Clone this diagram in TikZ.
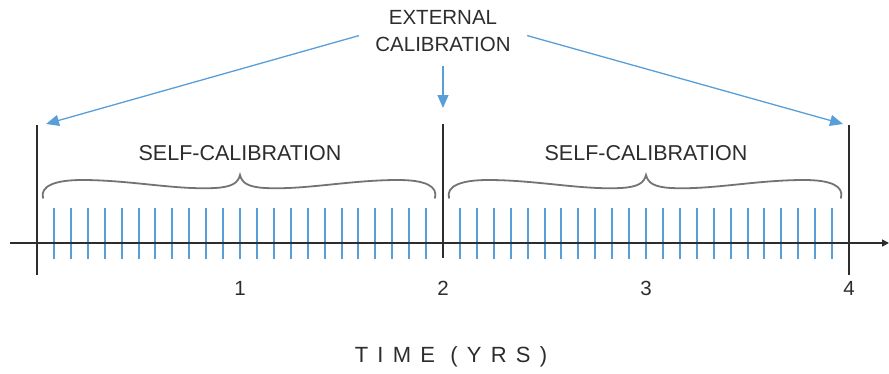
\documentclass[tikz,border=0pt]{standalone}
\usepackage{fontspec}
\setmainfont{Liberation Sans}
\usetikzlibrary{arrows.meta}
\definecolor{tickblue}{RGB}{88,158,216}
\definecolor{ink}{RGB}{45,45,45}
\definecolor{bracegray}{RGB}{115,115,115}
\tikzset{
  lbl/.style={text=ink, inner sep=0pt, font=\fontsize{20.5}{27}\selectfont},
  bluearrow/.style={draw=tickblue, line width=1.3pt, -{Triangle[length=13pt,width=11pt]}},
  axisline/.style={draw=ink, line width=1.5pt},
  tickmark/.style={draw=tickblue, line width=2pt},
  bracestroke/.style={draw=bracegray, line width=1.8pt, line cap=round},
}
\begin{document}
\begin{tikzpicture}[x=1pt,y=-1pt]
\useasboundingbox (0,0) rectangle (889,373);
% ticks
\foreach \k in {1,...,23}{
  \pgfmathsetmacro\xa{round(37+16.9167*\k)}
  \pgfmathsetmacro\xb{round(443+16.9167*\k)}
  \draw[tickmark] (\xa,208) -- (\xa,259);
  \draw[tickmark] (\xb,208) -- (\xb,259);
}
% axis
\coordinate (ax0) at (10,243);
\coordinate (ax1) at (889,243);
\draw[axisline, -{Triangle[length=7pt,width=7pt]}] (ax0) -- (ax1);
% vertical marks
\coordinate (l0t) at (37,125); \coordinate (l0b) at (37,275);
\coordinate (l2t) at (443,124); \coordinate (l2b) at (443,258);
\coordinate (l4t) at (849,125); \coordinate (l4b) at (849,275);
\draw[axisline] (l0t) -- (l0b);
\draw[axisline] (l2t) -- (l2b);
\draw[axisline] (l4t) -- (l4b);
% numbers
\node[lbl] (n1) at (240,288) {1};
\node[lbl] (n2) at (443,288) {2};
\node[lbl] (n3) at (646,288) {3};
\node[lbl] (n4) at (849,288) {4};
% braces
\foreach \s in {0,406}{
\begin{scope}[xshift=\s pt]
\draw[bracestroke] (43,198) .. controls (40,186) and (55,180) .. (82,180)
  .. controls (130,180) and (175,190) .. (215,188)
  .. controls (232,187) and (238,183) .. (240,175)
  .. controls (242,183) and (248,187) .. (265,188)
  .. controls (305,190) and (350,180) .. (398,180)
  .. controls (425,180) and (438,186) .. (435,198);
\end{scope}
}
\node[lbl, font=\fontsize{21.5}{27}\selectfont] (sc1) at (240,153) {SELF-CALIBRATION};
\node[lbl, font=\fontsize{21.5}{27}\selectfont] (sc2) at (646,153) {SELF-CALIBRATION};
% external calibration
\node[lbl, align=center] (ext) at (443,31) {EXTERNAL\\CALIBRATION};
\coordinate (ltip) at (46,124);
\coordinate (rtip) at (843,124);
\coordinate (dtip) at (443,108);
\draw[bluearrow, shorten <=17pt] (ext.west) -- (ltip);
\draw[bluearrow, shorten <=17pt] (ext.east) -- (rtip);
\draw[bluearrow, shorten <=14pt] (ext.south) -- (dtip);
% axis title
\node[text=ink, inner sep=0pt, font=\fontsize{22}{22}\selectfont\addfontfeatures{LetterSpace=42}] (title) at (451,357) {TIME (YRS)};
\end{tikzpicture}
\end{document}
